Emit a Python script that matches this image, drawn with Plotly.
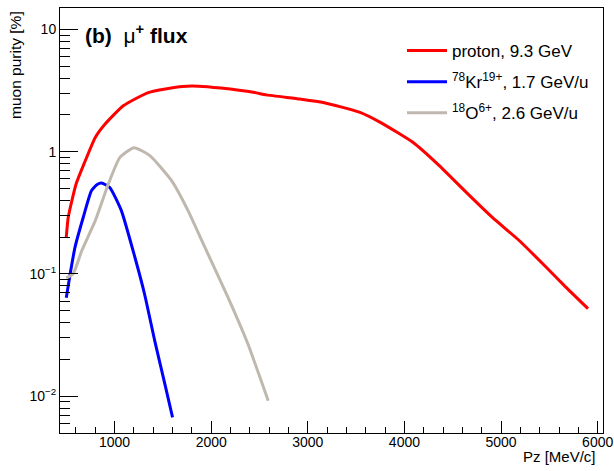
import numpy as np
import plotly.graph_objects as go

# ---- data ----
pz_proton = [500, 520, 600, 690, 800, 900, 1090, 1350, 1700, 1870, 2100, 2450, 2570, 2920, 3160,
             3540, 3750, 4090, 4360, 4640, 4910, 5190, 5470, 5670, 5900]
pur_proton = [0.20, 0.29, 0.54, 0.82, 1.31, 1.68, 2.38, 3.05, 3.42, 3.44, 3.32, 3.05, 2.92, 2.70, 2.53,
              2.10, 1.74, 1.19, 0.77, 0.465, 0.29, 0.187, 0.113, 0.078, 0.052]

pz_kr = [500, 540, 590, 675, 760, 820, 865, 950, 1070, 1210, 1310, 1415, 1520, 1600]
pur_kr = [0.064, 0.10, 0.165, 0.29, 0.48, 0.54, 0.555, 0.51, 0.33, 0.137, 0.0686, 0.0285, 0.0126, 0.0067]

pz_o = [500, 570, 660, 800, 935, 1055, 1200, 1365, 1590, 1760, 1935, 2175, 2380, 2590]
pur_o = [0.093, 0.10, 0.155, 0.273, 0.544, 0.90, 1.08, 0.93, 0.58, 0.33, 0.165, 0.064, 0.0267, 0.0092]

names = ["proton, 9.3 GeV",
         "<sup>78</sup>Kr<sup>19+</sup>, 1.7 GeV/u",
         "<sup>18</sup>O<sup>6+</sup>, 2.6 GeV/u"]
colors = ["#FF0000", "#0000FF", "#C0B8AF"]

y_tickvals = [0.01, 0.1, 1, 10]
y_ticktext = ["10<sup>\u22122</sup>", "10<sup>\u22121</sup>", "1", "10"]

FONT = "Liberation Sans, Arial, Helvetica, sans-serif"

W, H = 614, 471
ML, MR, MT, MB = 60, 11, 8, 38
PW = W - ML - MR
PH = H - MT - MB

fig = go.Figure()
for i, (xs, ys) in enumerate([(pz_proton, pur_proton), (pz_kr, pur_kr), (pz_o, pur_o)]):
    fig.add_trace(go.Scatter(x=xs, y=ys, mode="lines", name=names[i],
                             line=dict(color=colors[i], width=3, shape="spline", smoothing=0.5),
                             legendgroup=str(i)))

minor_y = [m * 10.0 ** e for e in range(-3, 2) for m in range(2, 10)]
minor_y = [v for v in minor_y if 0.005 <= v <= 15]

fig.update_layout(
    width=W, height=H,
    margin=dict(l=ML, r=MR, t=MT, b=MB, autoexpand=False),
    paper_bgcolor="white", plot_bgcolor="white",
    font=dict(family=FONT, size=14, color="black"),
    showlegend=True,
    legend=dict(x=(402 - 60) / PW, y=1 - (33 - 8) / PH, xanchor="left", yanchor="top",
                bgcolor="rgba(0,0,0,0)", font=dict(size=17, family=FONT),
                traceorder="grouped", tracegroupgap=6, itemwidth=40),
    xaxis=dict(range=[435, 6055], showline=True, mirror=True, linecolor="black", linewidth=1,
               ticks="inside", ticklen=12, tickcolor="black", dtick=1000, tick0=0,
               showgrid=False, zeroline=False, tickfont=dict(size=14),
               ticklabeloverflow="allow", ticklabelstandoff=-4,
               minor=dict(ticks="inside", ticklen=6, dtick=200, tick0=0, tickcolor="black",
                          showgrid=False)),
    yaxis=dict(type="log", range=[np.log10(0.005), np.log10(15)], showline=True, mirror=True,
               linecolor="black", linewidth=1, ticks="inside", ticklen=18, tickcolor="black",
               tickmode="array", tickvals=y_tickvals, ticktext=y_ticktext,
               showgrid=False, zeroline=False, tickfont=dict(size=14),
               ticklabeloverflow="allow",
               minor=dict(ticks="inside", ticklen=10, tickmode="array", tickvals=minor_y,
                          tickcolor="black", showgrid=False)),
)

fig.add_annotation(text="<b>(b)</b>  \u03bc<sup><b>+</b></sup> <b>flux</b>", xref="paper", yref="paper",
                   x=(83 - 60) / PW, y=1 - (34 - 8) / PH, xanchor="left", yanchor="middle",
                   showarrow=False, font=dict(size=21, family=FONT))
fig.add_annotation(text="muon purity [%]", xref="paper", yref="paper",
                   x=(15 - 60) / PW, y=1, xanchor="center", yanchor="top", yshift=-1,
                   textangle=-90, showarrow=False, font=dict(size=15.5, family=FONT))
fig.add_annotation(text="Pz [MeV/c]", xref="paper", yref="paper",
                   x=(598 - 60) / PW, y=0, xanchor="right", yanchor="middle", yshift=-23,
                   showarrow=False, font=dict(size=15, family=FONT))

fig.write_html("out.html", config={"displayModeBar": False},
               post_script="document.body.style.margin='0px';document.body.style.overflow='hidden';")
